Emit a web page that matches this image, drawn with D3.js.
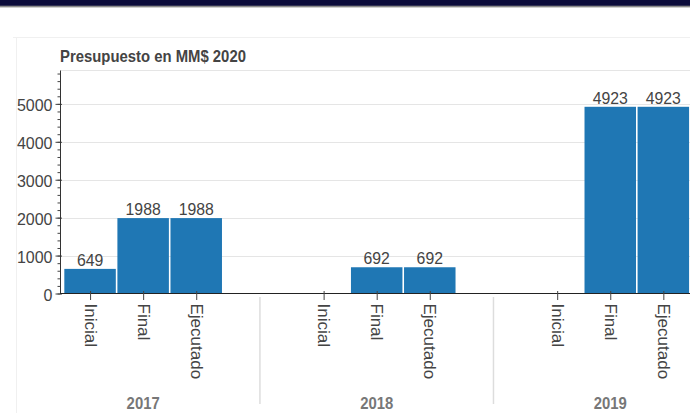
<!DOCTYPE html>
<html>
<head>
<meta charset="utf-8">
<script src="https://cdn.jsdelivr.net/npm/d3@7"></script>
<style>
  body { margin: 0; background: #fff; overflow: hidden; }
  text { font-family: "Liberation Sans", Arial, Helvetica, sans-serif; }
</style>
</head>
<body>
<script>
// data
const title = "Presupuesto en MM$ 2020";
const years = ["2017", "2018", "2019"];
const stages = ["Inicial", "Final", "Ejecutado"];
const values2017 = [649, 1988, 1988];
const values2018 = [null, 692, 692];
const values2019 = [null, 4923, 4923];
const yTicks = [0, 1000, 2000, 3000, 4000, 5000];

const W = 690, H = 413;
const squishX = 0.93; // text in the picture is a bit narrow

const svg = d3.select("body").append("svg")
    .attr("width", W)
    .attr("height", H);

// top banner
svg.append("rect").attr("x", 0).attr("y", 0).attr("width", W).attr("height", 6).attr("fill", "#0b0b3b");
svg.append("rect").attr("x", 0).attr("y", 5.7).attr("width", W).attr("height", 1.7).attr("fill", "#8a8a8a");

// card border
svg.append("line").attr("x1", 13).attr("x2", W).attr("y1", 37.5).attr("y2", 37.5)
    .attr("stroke", "#f0f0f0");
svg.append("line").attr("x1", 16.5).attr("x2", 16.5).attr("y1", 37.5).attr("y2", H)
    .attr("stroke", "#f0f0f0");

// factor layout (like a grouped factor range, group padding 1.4)
const groupPad = 1.4, sidePad = 0.057;
const nF = stages.length;
const allValues = [values2017, values2018, values2019];
let rows = [];
years.forEach(function(yr, gi) {
  stages.forEach(function(st, fi) {
    rows.push({year: yr, stage: st, value: allValues[gi][fi],
               u: gi * (nF + groupPad) + fi + 0.5});
  });
});
const totalU = years.length * nF + (years.length - 1) * groupPad;

const x = d3.scaleLinear().domain([-sidePad, totalU + sidePad]).range([60.5, 692.9]);
const y = d3.scaleLinear().domain([0, 5880]).range([293.5, 70.5]);
const unitPx = x(1) - x(0);

function squish(sel, px, py, rot) {
  sel.attr("transform", "translate(" + px + "," + py + ") scale(" + squishX + ",1)" + (rot ? " rotate(" + rot + ")" : ""));
}

// title
svg.append("text")
    .text(title)
    .attr("font-size", 16)
    .attr("font-weight", "bold")
    .attr("fill", "#444")
    .call(squish, 60, 62);

// grid + outline
svg.append("line").attr("x1", 60.5).attr("x2", W).attr("y1", 70.5).attr("y2", 70.5).attr("stroke", "#e5e5e5");
svg.selectAll("line.grid")
  .data(yTicks.slice(1))
  .enter().append("line")
    .attr("class", "grid")
    .attr("x1", 60.5).attr("x2", W)
    .attr("y1", d => Math.round(y(d)) + 0.5)
    .attr("y2", d => Math.round(y(d)) + 0.5)
    .attr("stroke", "#e5e5e5");

// bars
const barW = 0.97;
svg.selectAll("rect.bar")
  .data(rows.filter(d => d.value != null))
  .enter().append("rect")
    .attr("class", "bar")
    .attr("x", d => x(d.u - barW / 2))
    .attr("width", barW * unitPx)
    .attr("y", d => y(d.value))
    .attr("height", d => y(0) - y(d.value))
    .attr("fill", "#1f77b4");

// value labels
svg.selectAll("text.val")
  .data(rows.filter(d => d.value != null))
  .enter().append("text")
    .attr("class", "val")
    .text(d => d.value)
    .attr("text-anchor", "middle")
    .attr("font-size", 17)
    .attr("fill", "#444")
    .each(function(d) { d3.select(this).call(squish, x(d.u), y(d.value) - 3); });

// y axis
const yAxis = svg.append("g").attr("transform", "translate(60.5,0)");
yAxis.append("g")
    .call(d3.axisLeft(y).tickValues(d3.range(0, 5801, 200)).tickFormat("").tickSizeInner(3).tickSizeOuter(0))
    .call(g => g.select(".domain").remove())
    .selectAll("line").attr("stroke", "#444");
yAxis.append("g")
    .call(d3.axisLeft(y).tickValues(yTicks).tickFormat(d3.format("d")).tickSizeInner(5).tickSizeOuter(0))
    .call(g => g.select(".domain").remove())
    .call(g => g.selectAll(".tick line").attr("x2", -5).attr("x1", 1.5).attr("stroke", "#444"))
    .call(g => g.selectAll(".tick text")
        .attr("font-size", 16)
        .attr("fill", "#444")
        .attr("font-family", null)
        .attr("text-anchor", "end")
        .attr("dy", "0.38em")
        .attr("x", -8)
        .attr("y", 1));
yAxis.append("line").attr("x1", 0).attr("x2", 0).attr("y1", 70.5).attr("y2", 294)
    .attr("stroke", "#333");

// x axis
const xAxis = svg.append("g").attr("transform", "translate(0,293.5)");
xAxis.append("line").attr("x1", 60.5).attr("x2", W).attr("y1", 0).attr("y2", 0).attr("stroke", "#222").attr("stroke-width", 1.2);
xAxis.append("g")
    .call(d3.axisBottom(x).tickValues(rows.map(d => d.u)).tickFormat((d, i) => rows[i].stage).tickSizeOuter(0))
    .call(g => g.select(".domain").remove())
    .call(g => g.selectAll(".tick line").attr("y1", -2.5).attr("y2", 6.5).attr("stroke", "#444"))
    .call(g => g.selectAll(".tick text")
        .attr("font-size", 17)
        .attr("fill", "#444")
        .attr("font-family", null)
        .attr("text-anchor", "start")
        .attr("y", null)
        .attr("dy", null)
        .attr("transform", "translate(-6,10) rotate(90)"));

// group separators
svg.selectAll("line.sep")
  .data(years.slice(1))
  .enter().append("line")
    .attr("class", "sep")
    .attr("x1", (d, i) => x((i + 1) * (nF + groupPad) - groupPad / 2))
    .attr("x2", (d, i) => x((i + 1) * (nF + groupPad) - groupPad / 2))
    .attr("y1", 297).attr("y2", 404)
    .attr("stroke", "#ddd")
    .attr("stroke-width", 1.5);

// group labels
svg.selectAll("text.grp")
  .data(years)
  .enter().append("text")
    .attr("class", "grp")
    .text(d => d)
    .attr("text-anchor", "middle")
    .attr("font-size", 16)
    .attr("font-weight", "bold")
    .attr("fill", "#777")
    .each(function(d, i) { d3.select(this).call(squish, x(i * (nF + groupPad) + nF / 2), 409); });
</script>
</body>
</html>
